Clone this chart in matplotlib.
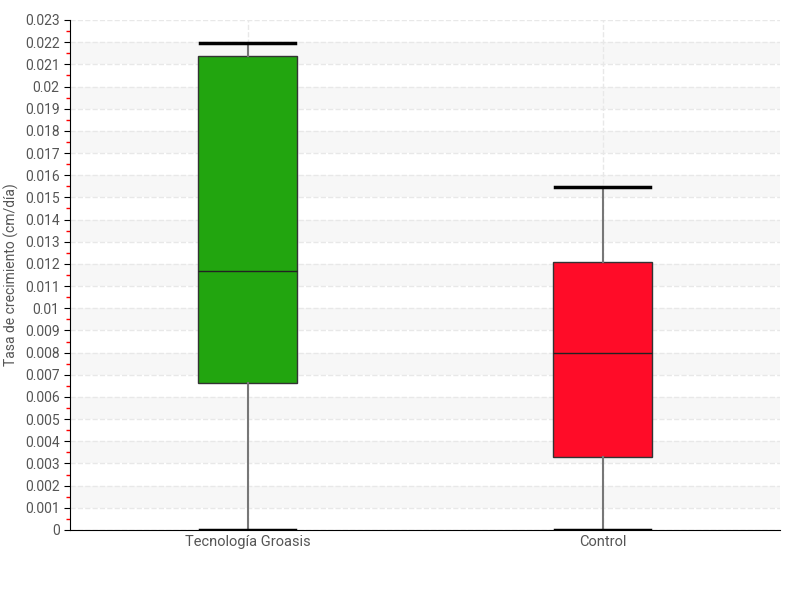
import numpy as np
from matplotlib import pyplot as plt

categories = ["Tecnología Groasis", "Control"]
whisker_low = [0.0, 0.0]
q1 = [0.00663, 0.00329]
median = [0.01168, 0.00798]
q3 = [0.02138, 0.01209]
whisker_high = [0.02196, 0.01547]
colors = ["#22a50f", "#ff0c28"]

plt.rcParams["font.family"] = ["Roboto", "DejaVu Sans"]

fig = plt.figure(figsize=(8, 6), dpi=100)
ax = fig.add_axes([0.0875, 0.1167, 0.8875, 0.85])

stats = []
for i, name in enumerate(categories):
    stats.append({"label": name, "whislo": whisker_low[i], "q1": q1[i], "med": median[i],
                  "q3": q3[i], "whishi": whisker_high[i], "fliers": []})

bp = ax.bxp(stats, positions=[1, 2], widths=0.28, patch_artist=True, showfliers=False,
            boxprops=dict(edgecolor="#333333", linewidth=1),
            medianprops=dict(color="#222222", linewidth=1),
            whiskerprops=dict(color="#777777", linewidth=1.5),
            capprops=dict(color="black", linewidth=2.5), capwidths=0.27)
for patch, c in zip(bp["boxes"], colors):
    patch.set_facecolor(c)
    patch.set_zorder(3)
for art in bp["medians"] + bp["whiskers"] + bp["caps"]:
    art.set_zorder(4)

ax.set_xlim(0.5, 2.5)
ax.set_ylim(0, 0.023)

# alternating bands
for lo in np.arange(0.001, 0.023, 0.002):
    ax.axhspan(lo, lo + 0.001, color="#f7f7f7", zorder=0, linewidth=0)

yt = np.round(np.arange(0, 0.0231, 0.001), 3)
ax.set_yticks(yt)
ax.set_yticklabels(["0" if v == 0 else ("%g" % v) for v in yt])
ax.set_yticks(np.arange(0.0005, 0.023, 0.001), minor=True)
ax.tick_params(axis="y", which="minor", color="red", length=3, width=1)
ax.tick_params(axis="y", which="major", color="black", length=4, labelsize=10, labelcolor="#555555")
ax.tick_params(axis="x", length=0, labelsize=10.5, labelcolor="#555555")

ax.grid(True, axis="both", which="major", color="#e8e8e8", linestyle="--", linewidth=1, zorder=1)
ax.set_axisbelow(True)

for s in ["top", "right"]:
    ax.spines[s].set_visible(False)

ax.set_ylabel("Tasa de crecimiento (cm/día)", fontsize=10, color="#555555")
ax.yaxis.set_label_coords(-0.072, 0.5)

fig.savefig("out.png", dpi=100)
